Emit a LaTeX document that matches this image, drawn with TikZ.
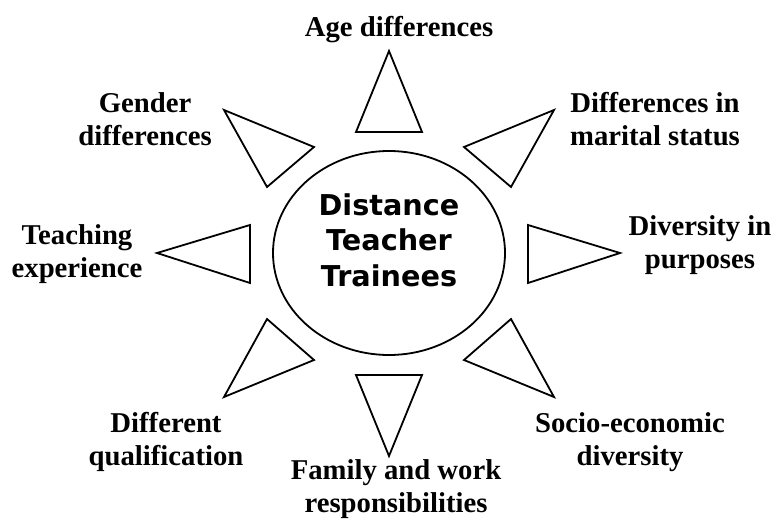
\documentclass[tikz,border=0pt]{standalone}
\usepackage{fontspec}
\setmainfont{Liberation Serif}
\newfontfamily\hubfont{DejaVu Sans}
\usetikzlibrary{shapes.geometric}

\begin{document}
\begin{tikzpicture}[x=0.5pt, y=-0.5pt, line width=0.9pt,
	petal/.style={draw=black, fill=white, line join=miter},
	factor/.style={align=center, anchor=base, inner sep=0pt, font=\fontsize{14.35}{16.5}\selectfont\bfseries},
	hubtext/.style={align=center, inner sep=0pt, font=\hubfont\fontsize{14.35}{17.75}\selectfont\bfseries}]
	\useasboundingbox (0,0) rectangle (774,523);
	\node[ellipse, draw, minimum width=116pt, minimum height=102pt, inner sep=0pt] (hub) at (389,253) {};
	\node[hubtext] (hubtext) at (389,240) {Distance\\Teacher\\Trainees};
	% triangles round the ellipse
	\draw[petal] (389,51) -- (356,132) -- (422,132) -- cycle;
	\draw[petal] (224,110) -- (314,147) -- (267,187) -- cycle;
	\draw[petal] (554,110) -- (464,147) -- (511,187) -- cycle;
	\draw[petal] (157,253) -- (250,225) -- (250,283) -- cycle;
	\draw[petal] (620,253) -- (528,225) -- (528,283) -- cycle;
	\draw[petal] (267,319) -- (314,360) -- (224,397) -- cycle;
	\draw[petal] (511,319) -- (464,360) -- (554,397) -- cycle;
	\draw[petal] (356,375) -- (422,375) -- (389,456) -- cycle;
	% labels (base = baseline of the last line)
	\node[factor] (age) at (399,37) {Age differences};
	\node[factor] (gender) at (145,146) {Gender\\differences};
	\node[factor] (marital) at (655,146) {Differences in\\marital status};
	\node[factor] (teaching) at (77,278) {Teaching\\experience};
	\node[factor] (purposes) at (700,268) {Diversity in\\purposes};
	\node[factor] (qualif) at (166,465) {Different\\qualification};
	\node[factor] (socio) at (630,465) {Socio-economic\\diversity};
	\node[factor] (family) at (396,512) {Family and work\\responsibilities};
\end{tikzpicture}
\end{document}
